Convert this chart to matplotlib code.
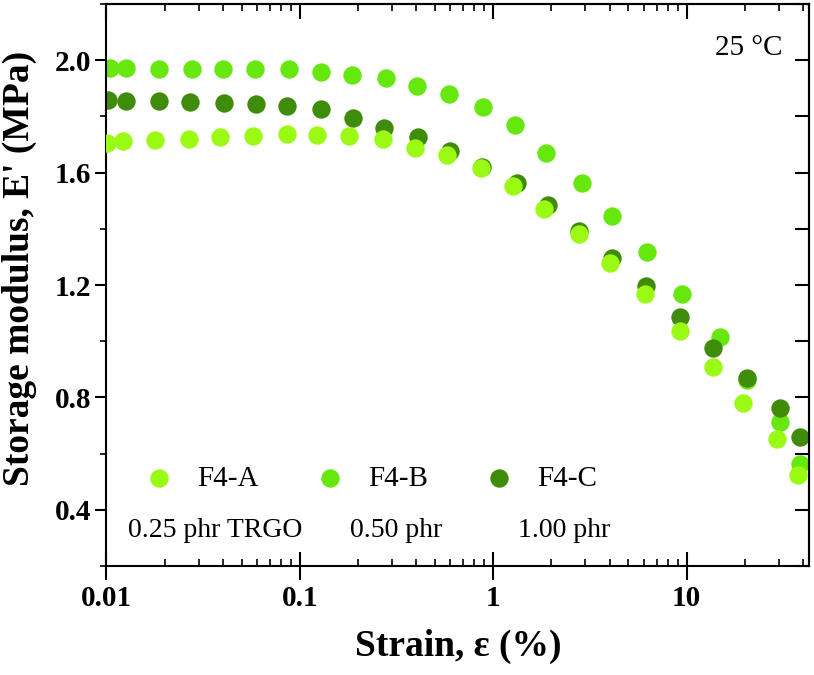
import numpy as np
import matplotlib
matplotlib.use("Agg")
import matplotlib.pyplot as plt
from matplotlib.ticker import MultipleLocator, FixedLocator, FuncFormatter, NullFormatter

# Strain sweep at 25 °C
strain_a = [0.01006, 0.01217, 0.0178, 0.0267, 0.0386, 0.0572, 0.0858, 0.1226, 0.1794, 0.2690,
            0.3936, 0.576, 0.864, 1.265, 1.829, 2.775, 4.012, 6.086, 9.235, 13.68, 19.55, 29.31, 37.63]
modulus_a = [1.705, 1.711, 1.717, 1.721, 1.726, 1.731, 1.738, 1.735, 1.729, 1.719, 1.688, 1.662,
             1.617, 1.554, 1.470, 1.380, 1.280, 1.167, 1.036, 0.907, 0.779, 0.651, 0.524]

strain_b = [0.0104, 0.01261, 0.01868, 0.0277, 0.0400, 0.0586, 0.0878, 0.1285, 0.1859, 0.2788,
            0.4031, 0.590, 0.885, 1.295, 1.873, 2.875, 4.110, 6.233, 9.456, 14.87, 20.5, 30.37, 38.54]
modulus_b = [1.973, 1.973, 1.970, 1.970, 1.969, 1.968, 1.969, 1.958, 1.946, 1.936, 1.910, 1.879,
             1.835, 1.769, 1.669, 1.564, 1.446, 1.317, 1.167, 1.014, 0.862, 0.711, 0.563]

strain_c = [0.0102, 0.01261, 0.01868, 0.0270, 0.0405, 0.0593, 0.0858, 0.1285, 0.1882, 0.2722,
            0.4079, 0.597, 0.874, 1.326, 1.918, 2.775, 4.110, 6.159, 9.235, 13.68, 20.50, 30.37, 38.54]
modulus_c = [1.859, 1.856, 1.854, 1.851, 1.848, 1.844, 1.838, 1.828, 1.795, 1.759, 1.727, 1.678,
             1.620, 1.564, 1.485, 1.393, 1.296, 1.195, 1.086, 0.975, 0.869, 0.764, 0.660]

labels = ["F4-A", "F4-B", "F4-C"]
loadings = ["0.25 phr TRGO", "0.50 phr", "1.00 phr"]
colors = ["#9BFA14", "#66E80E", "#3E8C0A"]

serif = ["Liberation Serif", "DejaVu Serif"]
plt.rcParams["font.family"] = serif

fig = plt.figure(figsize=(8.14, 6.75), dpi=100)
ax = fig.add_axes([0.1308, 0.1615, 0.8631, 0.8325])

ms = 175
h_b = ax.scatter(strain_b, modulus_b, s=ms, color=colors[1], lw=0, zorder=1, label=labels[1])
h_c = ax.scatter(strain_c, modulus_c, s=ms, color=colors[2], lw=0, zorder=2, label=labels[2])
h_a = ax.scatter(strain_a, modulus_a, s=ms, color=colors[0], lw=0, zorder=3, label=labels[0])

ax.set_xscale("log")
ax.set_xlim(0.01, 43)
ax.set_ylim(0.2, 2.2)

# ticks
ax.xaxis.set_major_locator(FixedLocator([0.01, 0.1, 1, 10]))
ax.xaxis.set_major_formatter(FuncFormatter(lambda v, p: f"{v:g}"))
ax.xaxis.set_minor_formatter(NullFormatter())
ax.yaxis.set_major_locator(FixedLocator([0.4, 0.8, 1.2, 1.6, 2.0]))
ax.yaxis.set_minor_locator(MultipleLocator(0.2))
ax.yaxis.set_major_formatter(FuncFormatter(lambda v, p: f"{v:.1f}"))

ax.tick_params(axis="x", which="major", direction="inout", length=20, width=1.5, pad=4)
ax.tick_params(axis="x", which="minor", direction="in", length=5, width=1.2)
ax.tick_params(axis="y", which="major", direction="out", length=8, width=1.5, pad=3)
ax.tick_params(axis="y", which="minor", direction="out", length=4, width=1.2)
for lab in ax.get_xticklabels() + ax.get_yticklabels():
    lab.set_fontweight("bold")
    lab.set_fontsize(21)

top = ax.secondary_xaxis("top")
top.xaxis.set_major_locator(FixedLocator([0.01, 0.1, 1, 10]))
top.tick_params(which="major", direction="in", length=11, width=1.5, labeltop=False)
top.tick_params(which="minor", direction="in", length=5, width=1.2)
top.xaxis.set_minor_formatter(NullFormatter())

right = ax.secondary_yaxis("right")
right.yaxis.set_major_locator(FixedLocator([0.4, 0.8, 1.2, 1.6, 2.0]))
right.yaxis.set_minor_locator(MultipleLocator(0.2))
right.tick_params(which="both", direction="in", length=10, width=1.5, labelright=False)

for sp in list(ax.spines.values()) + [top.spines["top"], right.spines["right"]]:
    sp.set_linewidth(1.5)

ax.set_xlabel("Strain, ε (%)", fontsize=27, fontweight="bold")
ax.set_ylabel("Storage modulus, E' (MPa)", fontsize=27, fontweight="bold")
ax.xaxis.set_label_coords(0.5, -0.112)
ax.yaxis.set_label_coords(-0.099, 0.53)

ax.legend(handles=[h_a, h_b, h_c], loc="center left", bbox_to_anchor=(0.054, 0.155),
          ncol=3, frameon=False, fontsize=21, handlelength=1.0, handletextpad=0.8,
          columnspacing=1.95, borderpad=0, borderaxespad=0, scatterpoints=1)

for xpos, txt in zip([0.0306, 0.3466, 0.5858], loadings):
    ax.text(xpos, 0.064, txt, transform=ax.transAxes, fontsize=20, va="center", ha="left")

ax.text(0.866, 0.9217, "25 °C", transform=ax.transAxes, fontsize=21, va="center", ha="left")

fig.savefig("out.png", dpi=100)
